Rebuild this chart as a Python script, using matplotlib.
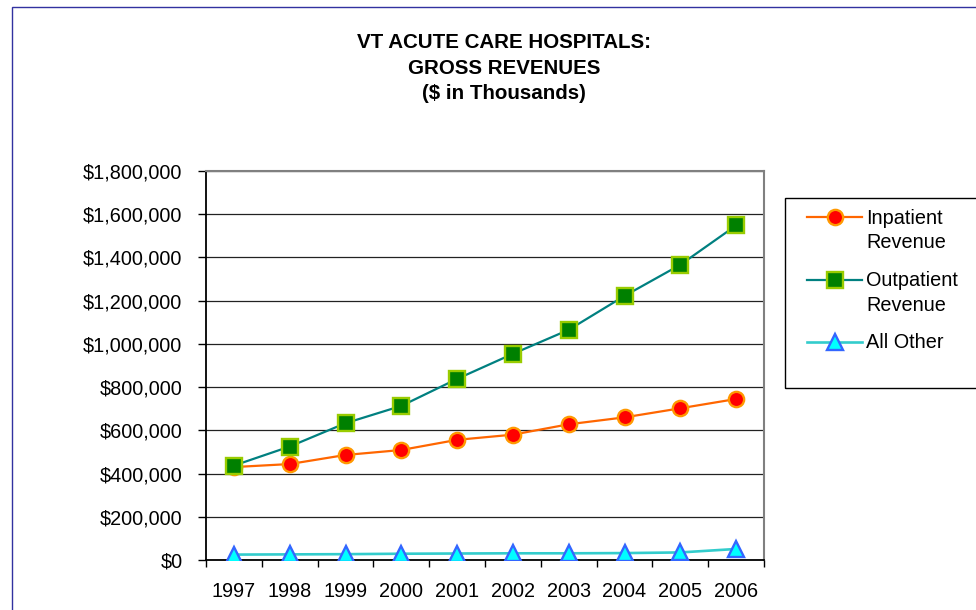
import matplotlib.pyplot as plt
import matplotlib.patches as mpatches
from matplotlib.lines import Line2D
from matplotlib.ticker import FuncFormatter, FixedLocator
import numpy as np

plt.rcParams['font.family'] = ['Liberation Sans', 'DejaVu Sans']

years = ['1997', '1998', '1999', '2000', '2001', '2002', '2003', '2004', '2005', '2006']
inpatient = [430000, 444000, 486000, 509000, 556000, 580000, 628000, 660000, 702000, 745000]
outpatient = [437000, 525000, 633000, 713000, 838000, 954000, 1065000, 1222000, 1366000, 1548000]
all_other = [25000, 26000, 27000, 29000, 30000, 31000, 31000, 32000, 35000, 51000]
labels = ['Inpatient\nRevenue', 'Outpatient\nRevenue', 'All Other']

W, H = 976, 610
fig = plt.figure(figsize=(W / 100, H / 100), dpi=100)
ax = fig.add_axes([206 / W, 1 - 560 / H, (764 - 206) / W, (560 - 171) / H])

x = np.arange(len(years))

styles = [
    dict(color='#FF6600', lw=1.6, marker='o', ms=11, mfc='#FF0000', mec='#FF9900', mew=1.7),
    dict(color='#008080', lw=1.6, marker='s', ms=11, mfc='#008000', mec='#99CC00', mew=1.7),
    dict(color='#33CCCC', lw=1.9, marker='^', ms=11.5, mfc='#00FFFF', mec='#3366FF', mew=1.7),
]

for vals, st, z in zip([inpatient, outpatient, all_other], styles, [3, 4, 3]):
    ax.plot(x, vals, zorder=z, **st)

ax.set_xlim(-0.5, len(years) - 0.5)
ax.set_ylim(0, 1800000)
ax.set_yticks(np.arange(0, 1800001, 200000))
ax.yaxis.set_major_formatter(FuncFormatter(lambda v, p: '${:,.0f}'.format(v)))
ax.set_xticks(x)
ax.set_xticklabels(years)
ax.xaxis.set_minor_locator(FixedLocator(np.arange(-0.5, len(years), 1.0)))

ax.tick_params(axis='y', direction='out', length=6, width=1, pad=11, labelsize=14.3)
ax.tick_params(axis='x', which='major', length=0, pad=16, labelsize=14.3)
ax.tick_params(axis='x', which='minor', direction='out', length=5, width=1)

ax.grid(axis='y', color='#222222', lw=0.9)
ax.set_axisbelow(True)
for s in ['top', 'right']:
    ax.spines[s].set_color('#808080')
    ax.spines[s].set_linewidth(1.5)
for s in ['left', 'bottom']:
    ax.spines[s].set_color('black')
    ax.spines[s].set_linewidth(1.3)

fig.text(504 / W, 1 - 68 / H,
         'VT ACUTE CARE HOSPITALS:\nGROSS REVENUES\n($ in Thousands)',
         ha='center', va='center', fontsize=14.8, fontweight='bold', linespacing=1.45)

# outer chart border (runs off the right and bottom edges)
fig.patches.append(mpatches.Rectangle((12 / W, -0.1), 1.2, 1 - 7 / H + 0.1,
                                      transform=fig.transFigure, fill=False,
                                      edgecolor='#3232a0', lw=1.0))

# legend, drawn by hand so each marker sits on the first text line
fig.patches.append(mpatches.Rectangle((785 / W, 1 - 388 / H), 0.5, 190 / H,
                                      transform=fig.transFigure, fill=False,
                                      edgecolor='black', lw=1.0))
entry_y = [217, 280, 342]
for lab, st, yy in zip(labels, styles, entry_y):
    fy = 1 - yy / H
    fig.lines.append(Line2D([807 / W, 862 / W], [fy, fy], transform=fig.transFigure,
                            color=st['color'], lw=st['lw']))
    fig.lines.append(Line2D([835 / W], [fy], transform=fig.transFigure, ls='none',
                            marker=st['marker'], ms=st['ms'], mfc=st['mfc'],
                            mec=st['mec'], mew=st['mew']))
    for i, line in enumerate(lab.split('\n')):
        fig.text(866 / W, 1 - (yy + 1 + i * 24.5) / H, line, ha='left', va='center',
                 fontsize=14.3)

fig.savefig('out.png', dpi=100)
